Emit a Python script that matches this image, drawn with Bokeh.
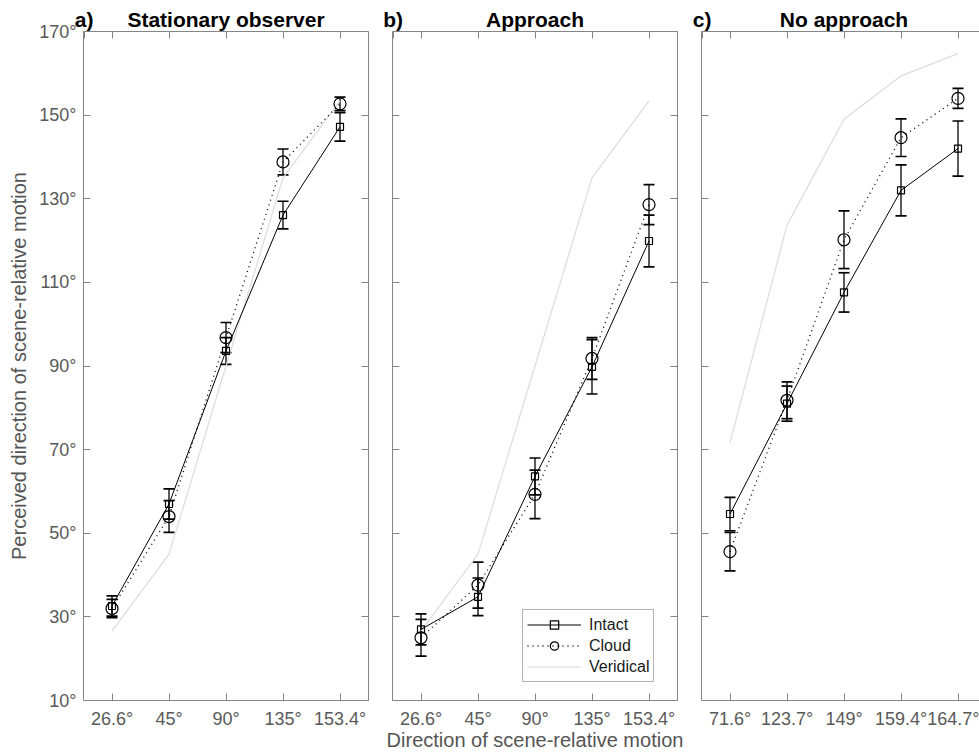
from bokeh.plotting import figure
from bokeh.models import (Range1d, LinearAxis, FixedTicker, PrintfTickFormatter,
                          CustomJSTickFormatter, ColumnDataSource, Whisker, TeeHead,
                          Legend, LegendItem)
from bokeh.layouts import row
from bokeh.embed import file_html
from bokeh.resources import INLINE

# ---------------- data ----------------
positions = [1, 2, 3, 4, 5]
y_ticks = [10, 30, 50, 70, 90, 110, 130, 150, 170]

labels_stationary = ["26.6°", "45°", "90°", "135°", "153.4°"]
labels_approach = ["26.6°", "45°", "90°", "135°", "153.4°"]
labels_noapproach = ["71.6°", "123.7°", "149°", "159.4°", "164.7°"]

stat_intact = [32.6, 57.0, 93.6, 126.1, 147.2]
stat_intact_err = [2.4, 3.6, 3.2, 3.3, 3.4]
stat_cloud = [32.0, 54.0, 96.8, 138.8, 152.7]
stat_cloud_err = [2.2, 3.8, 3.6, 3.1, 1.6]
stat_verid = [26.6, 45.0, 90.0, 135.0, 153.4]

appr_intact = [27.0, 34.8, 63.6, 89.8, 119.9]
appr_intact_err = [3.7, 4.5, 4.4, 6.5, 6.2]
appr_cloud = [25.0, 37.6, 59.3, 91.8, 128.6]
appr_cloud_err = [4.4, 5.5, 5.8, 5.0, 4.8]
appr_verid = [26.6, 45.0, 90.0, 135.0, 153.4]

noap_intact = [54.6, 81.0, 107.6, 132.0, 142.0]
noap_intact_err = [4.0, 4.2, 4.7, 6.1, 6.6]
noap_cloud = [45.6, 81.8, 120.2, 144.6, 154.0]
noap_cloud_err = [4.6, 4.4, 6.9, 4.5, 2.4]
noap_verid = [71.6, 123.7, 149.0, 159.4, 164.7]

titles = ["Stationary observer", "Approach", "No approach"]
letters = ["a)", "b)", "c)"]
y_title = "Perceived direction of scene-relative motion"
x_title = "Direction of scene-relative motion"

# ---------------- style ----------------
FONT = "Liberation Sans"
AXIS_COLOR = "#858585"
TICK_TEXT = "#595959"
LABEL_TEXT = "#555555"
VERID_COLOR = "#dcdcdc"
PX_PER_UNIT = 57.0
H = 753
TOP = 31
BOTTOM = 53
LETTER_POS = 0.51

empty_fmt = CustomJSTickFormatter(code="return ''")


def style_axis(ax, labels=True):
    ax.axis_line_color = AXIS_COLOR
    ax.axis_line_width = 1
    ax.major_tick_line_color = AXIS_COLOR
    ax.major_tick_in = 7
    ax.major_tick_out = 0
    ax.minor_tick_line_color = None
    ax.major_label_text_font = FONT
    ax.major_label_text_font_size = "18px"
    ax.major_label_text_color = TICK_TEXT
    if not labels:
        ax.major_label_standoff = 0


def make_panel(idx, xlabels, intact, intact_err, cloud, cloud_err, verid,
               width, left, right, x_end, show_y_labels, right_axis, legend=False):
    p = figure(width=width, height=H, output_backend="svg", toolbar_location=None,
               x_range=Range1d(0.5, x_end), y_range=Range1d(10, 170),
               min_border_left=left, min_border_right=right,
               min_border_top=TOP, min_border_bottom=BOTTOM,
               outline_line_color=None, background_fill_color="white",
               border_fill_color="white")
    p.grid.visible = False

    # bottom axis
    xa = p.xaxis[0]
    xa.ticker = FixedTicker(ticks=positions)
    xa.major_label_overrides = {pos: lab for pos, lab in zip(positions, xlabels)}
    style_axis(xa)
    xa.major_label_standoff = 8
    if legend:
        xa.axis_label = x_title
        xa.axis_label_text_font = FONT
        xa.axis_label_text_font_size = "20px"
        xa.axis_label_text_font_style = "normal"
        xa.axis_label_text_color = LABEL_TEXT
        xa.axis_label_standoff = -3

    # left axis
    ya = p.yaxis[0]
    ya.ticker = FixedTicker(ticks=y_ticks)
    if show_y_labels:
        ya.formatter = PrintfTickFormatter(format="%d°")
        style_axis(ya)
        ya.major_label_standoff = 7
        ya.axis_label = y_title
        ya.axis_label_text_font = FONT
        ya.axis_label_text_font_size = "20px"
        ya.axis_label_text_font_style = "normal"
        ya.axis_label_text_color = LABEL_TEXT
        ya.axis_label_standoff = 6
    else:
        ya.formatter = empty_fmt
        style_axis(ya, labels=False)

    # top axis: ticks + panel letter and title as labels
    title_fmt = CustomJSTickFormatter(
        args=dict(letter=letters[idx], title=titles[idx]),
        code="if (tick < 0.9) { return letter; } "
             "if (Math.abs(tick - 3) < 1e-6) { return title; } return '';")
    ta = LinearAxis(ticker=FixedTicker(ticks=[LETTER_POS] + positions), formatter=title_fmt)
    style_axis(ta)
    ta.major_label_text_font_size = "21px"
    ta.major_label_text_font_style = "bold"
    ta.major_label_text_color = "black"
    ta.major_label_standoff = 1
    p.add_layout(ta, "above")

    # right axis
    if right_axis:
        ra = LinearAxis(ticker=FixedTicker(ticks=y_ticks), formatter=empty_fmt)
        style_axis(ra, labels=False)
        p.add_layout(ra, "right")

    # veridical
    vl = p.line(positions, verid, line_color=VERID_COLOR, line_width=1.2)

    # error bars
    for vals, errs in ((intact, intact_err), (cloud, cloud_err)):
        src = ColumnDataSource(dict(x=positions,
                                    upper=[v + e for v, e in zip(vals, errs)],
                                    lower=[v - e for v, e in zip(vals, errs)]))
        w = Whisker(source=src, base="x", upper="upper", lower="lower",
                    dimension="height", line_color="black", line_width=1.3,
                    upper_head=TeeHead(size=11, line_color="black", line_width=1.7),
                    lower_head=TeeHead(size=11, line_color="black", line_width=1.7))
        p.add_layout(w)

    isrc = ColumnDataSource(dict(x=positions, y=intact))
    csrc = ColumnDataSource(dict(x=positions, y=cloud))
    il = p.line("x", "y", source=isrc, line_color="black", line_width=1)
    cl = p.line("x", "y", source=csrc, line_color="black", line_width=1.3, line_dash="1 4")
    im = p.scatter("x", "y", source=isrc, marker="square", size=7, fill_color=None,
                   line_color="black", line_width=1.2)
    cm = p.scatter("x", "y", source=csrc, marker="circle", size=12, fill_color=None,
                   line_color="black", line_width=1.2)

    if legend:
        lg = Legend(items=[LegendItem(label="Intact", renderers=[il, im]),
                           LegendItem(label="Cloud", renderers=[cl, cm]),
                           LegendItem(label="Veridical", renderers=[vl])],
                    location=(130, 18), glyph_width=54, glyph_height=21,
                    label_height=21, label_standoff=8, spacing=0, padding=4,
                    margin=0, label_text_font=FONT, label_text_font_size="16px",
                    label_text_color="#1a1a1a", border_line_color="#666666",
                    border_line_width=1, background_fill_color="white",
                    background_fill_alpha=1)
        p.add_layout(lg)
    return p


pa = make_panel(0, labels_stationary, stat_intact, stat_intact_err, stat_cloud,
                stat_cloud_err, stat_verid, width=380, left=83, right=12,
                x_end=5.5, show_y_labels=True, right_axis=True)
pb = make_panel(1, labels_approach, appr_intact, appr_intact_err, appr_cloud,
                appr_cloud_err, appr_verid, width=309, left=12, right=12,
                x_end=5.5, show_y_labels=False, right_axis=True, legend=True)
pc = make_panel(2, labels_noapproach, noap_intact, noap_intact_err, noap_cloud,
                noap_cloud_err, noap_verid, width=290, left=12, right=0,
                x_end=0.5 + 278 / PX_PER_UNIT, show_y_labels=False, right_axis=False)

layout = row(pa, pb, pc, spacing=0)
open("out.html", "w").write(file_html(layout, INLINE))
